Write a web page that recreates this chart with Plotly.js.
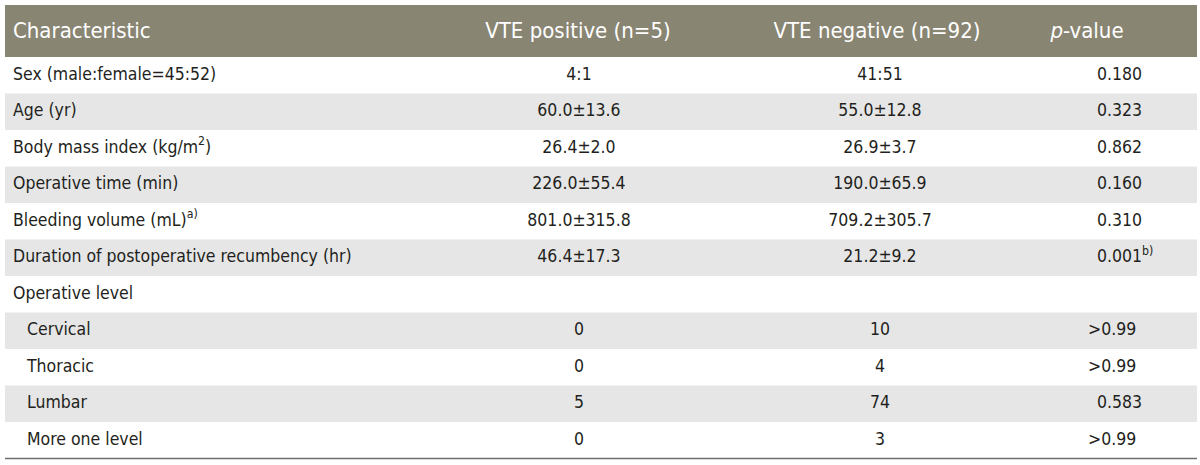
<!DOCTYPE html>
<html>
<head>
<meta charset="utf-8">
<script src="https://cdn.plot.ly/plotly-3.0.1.min.js"></script>
<style>html,body{margin:0;padding:0;background:#fff;}#chart{width:1200px;height:465px;}</style>
</head>
<body>
<div id="chart"></div>
<script>
// ---- data ----
const headers = ["Characteristic", "VTE positive (n=5)", "VTE negative (n=92)", "<i>p</i>-value"];
const characteristics = [
  "Sex (male:female=45:52)",
  "Age (yr)",
  "Body mass index (kg/m<sup>2</sup>)",
  "Operative time (min)",
  "Bleeding volume (mL)<sup>a)</sup>",
  "Duration of postoperative recumbency (hr)",
  "Operative level",
  "Cervical",
  "Thoracic",
  "Lumbar",
  "More one level"
];
const indented = [false, false, false, false, false, false, false, true, true, true, true];
const vtePositive = ["4:1", "60.0±13.6", "26.4±2.0", "226.0±55.4", "801.0±315.8", "46.4±17.3", "", "0", "0", "5", "0"];
const vteNegative = ["41:51", "55.0±12.8", "26.9±3.7", "190.0±65.9", "709.2±305.7", "21.2±9.2", "", "10", "4", "74", "3"];
const pValues = ["0.180", "0.323", "0.862", "0.160", "0.310", "0.001<sup>b)</sup>", "", ">0.99", ">0.99", "0.583", ">0.99"];

// ---- layout constants (pixel space) ----
const W = 1200, H = 465;
const left = 5, right = 1197;
const headTop = 5, headBot = 57, rowH = 36.5;
const FONT = "'Liberation Sans Narrow', 'DejaVu Sans Condensed', 'Roboto', sans-serif";
const txtColor = "#231f20";
const headFill = "#898573";
const bandFill = "#e6e6e6";

const n = characteristics.length;
const rowY = i => headBot + rowH * (i + 0.5);

const shapes = [];
shapes.push({type: "rect", xref: "x", yref: "y", x0: left, x1: right, y0: headTop, y1: headBot, fillcolor: headFill, line: {width: 0}, layer: "below"});
for (let i = 0; i < n; i++) {
  if (i % 2 === 1) {
    shapes.push({type: "rect", xref: "x", yref: "y", x0: left, x1: right, y0: headBot + rowH * i, y1: headBot + rowH * (i + 1), fillcolor: bandFill, line: {width: 0}, layer: "below"});
  }
}
shapes.push({type: "line", xref: "x", yref: "y", x0: left, x1: right, y0: headBot + rowH * n, y1: headBot + rowH * n, line: {color: "#6e6e6e", width: 1.3}});

const bodyFont = {family: FONT, size: 17.5, color: txtColor};
const headFont = {family: FONT, size: 22, color: "#ffffff"};
const headY = (headTop + headBot) / 2 + 1;

// build a text column, skipping empty cells
function column(values, xFn, pos) {
  const xs = [], ys = [], ts = [];
  values.forEach((v, i) => {
    if (v === "") return;
    xs.push(xFn(v, i)); ys.push(rowY(i)); ts.push(v);
  });
  return {x: xs, y: ys, text: ts, mode: "text", textposition: pos, textfont: bodyFont, hoverinfo: "skip"};
}

const traces = [
  // header
  {x: [13], y: [headY], text: [headers[0]], mode: "text", textposition: "middle right", textfont: headFont, hoverinfo: "skip"},
  {x: [578, 877, 1087], y: [headY, headY, headY], text: headers.slice(1), mode: "text", textposition: "middle center", textfont: headFont, hoverinfo: "skip"},
  column(characteristics, (v, i) => indented[i] ? 27 : 13, "middle right"),
  column(vtePositive, () => 579, "middle center"),
  column(vteNegative, () => 880, "middle center"),
  // p-values aligned on leading digit
  column(pValues, v => v.startsWith(">") ? 1088 : 1097, "middle right")
];

const layout = {
  width: W, height: H,
  margin: {l: 0, r: 0, t: 0, b: 0},
  paper_bgcolor: "#ffffff", plot_bgcolor: "#ffffff",
  showlegend: false,
  xaxis: {range: [0, W], visible: false, fixedrange: true},
  yaxis: {range: [H, 0], visible: false, fixedrange: true},
  shapes: shapes
};

Plotly.newPlot("chart", traces, layout, {displayModeBar: false, staticPlot: true});
</script>
</body>
</html>
